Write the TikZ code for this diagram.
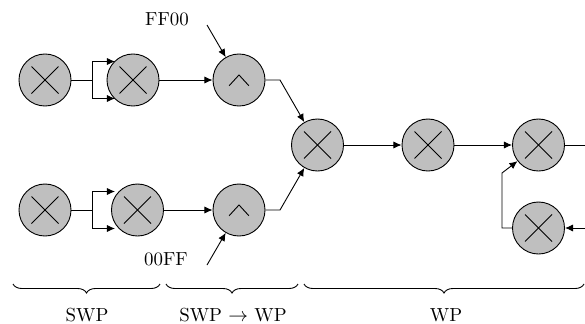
\documentclass[tikz,border=0pt]{standalone}
\usetikzlibrary{arrows.meta,decorations.pathreplacing}
\begin{document}
\begin{tikzpicture}[x=0.5556pt,y=-0.5556pt,line width=0.5pt,
  op/.style={circle,draw,fill=lightgray,minimum size=28.9pt,inner sep=0pt},
  mul/.style={op,path picture={
    \draw ([shift={(-7.5pt,-7.5pt)}]path picture bounding box.center) -- ++(15pt,15pt);
    \draw ([shift={(-7.5pt,7.5pt)}]path picture bounding box.center) -- ++(15pt,-15pt);}},
  andop/.style={op,path picture={
    \draw ([shift={(-5.5pt,-3.2pt)}]path picture bounding box.center) -- ++(5.5pt,6pt) -- ++(5.5pt,-6pt);}},
  conn/.style={-{Latex[length=4.5pt,width=4pt]}},
  brc/.style={decorate,decoration={brace,mirror,amplitude=5pt}},
  lbl/.style={inner sep=0pt,anchor=base,font=\fontsize{10.5}{12}\selectfont}]
\useasboundingbox (0,0) rectangle (585,323);
% nodes
\node[mul] (a1) at (45,80) {};
\node[mul] (a2) at (133,80) {};
\node[andop] (a3) at (239,80) {};
\node[mul] (b1) at (45,210) {};
\node[mul] (b2) at (137.5,210) {};
\node[andop] (b3) at (239,210) {};
\node[mul] (m1) at (317.5,145) {};
\node[mul] (m2) at (428,145) {};
\node[mul] (m3) at (538.5,145) {};
\node[mul] (m4) at (538.5,228) {};
% top fork
\coordinate (fa) at (92,80);
\coordinate (ta1) at (115,61.5);
\coordinate (ta2) at (115,98.5);
\draw (a1) -- (fa);
\draw[conn] (fa) |- (ta1);
\draw[conn] (fa) |- (ta2);
% bottom fork
\coordinate (fb) at (92,210);
\coordinate (tb1) at (115,191.5);
\coordinate (tb2) at (115,228.5);
\draw (b1) -- (fb);
\draw[conn] (fb) |- (tb1);
\draw[conn] (fb) |- (tb2);
% to AND
\draw[conn] (a2) -- (a3);
\draw[conn] (b2) -- (b3);
\node[lbl] (fft) at (167,25.5) {FF00};
\coordinate (ff) at (207,25);
\draw[conn] (ff) -- (a3);
\node[lbl] (oot) at (166,265) {00FF};
\coordinate (oo) at (207,265);
\draw[conn] (oo) -- (b3);
% to middle
\coordinate (ka) at (280,80);
\coordinate (kb) at (280,210);
\draw[conn] (a3) -- (ka) -- (m1);
\draw[conn] (b3) -- (kb) -- (m1);
\draw[conn] (m1) -- (m2);
\draw[conn] (m2) -- (m3);
\coordinate (re1) at (585,145);
\draw (m3) -- (re1);
\coordinate (re2) at (585,228);
\draw[conn] (re2) -- (m4);
\coordinate (fc) at (502,228);
\coordinate (fc2) at (502,173);
\draw[conn] (m4) -- (fc) -- (fc2) -- (m3);
% braces
\coordinate (br1a) at (13,284); \coordinate (br1b) at (160,284);
\coordinate (br2a) at (166,284); \coordinate (br2b) at (298,284);
\coordinate (br3a) at (304,284); \coordinate (br3b) at (584,284);
\draw[brc] (br1a) -- (br1b);
\draw[brc] (br2a) -- (br2b);
\draw[brc] (br3a) -- (br3b);
\node[lbl] (l1) at (87,321.5) {SWP};
\node[lbl] (l2) at (233,321.5) {SWP $\rightarrow$ WP};
\node[lbl] (l3) at (446,321.5) {WP};
\end{tikzpicture}
\end{document}
